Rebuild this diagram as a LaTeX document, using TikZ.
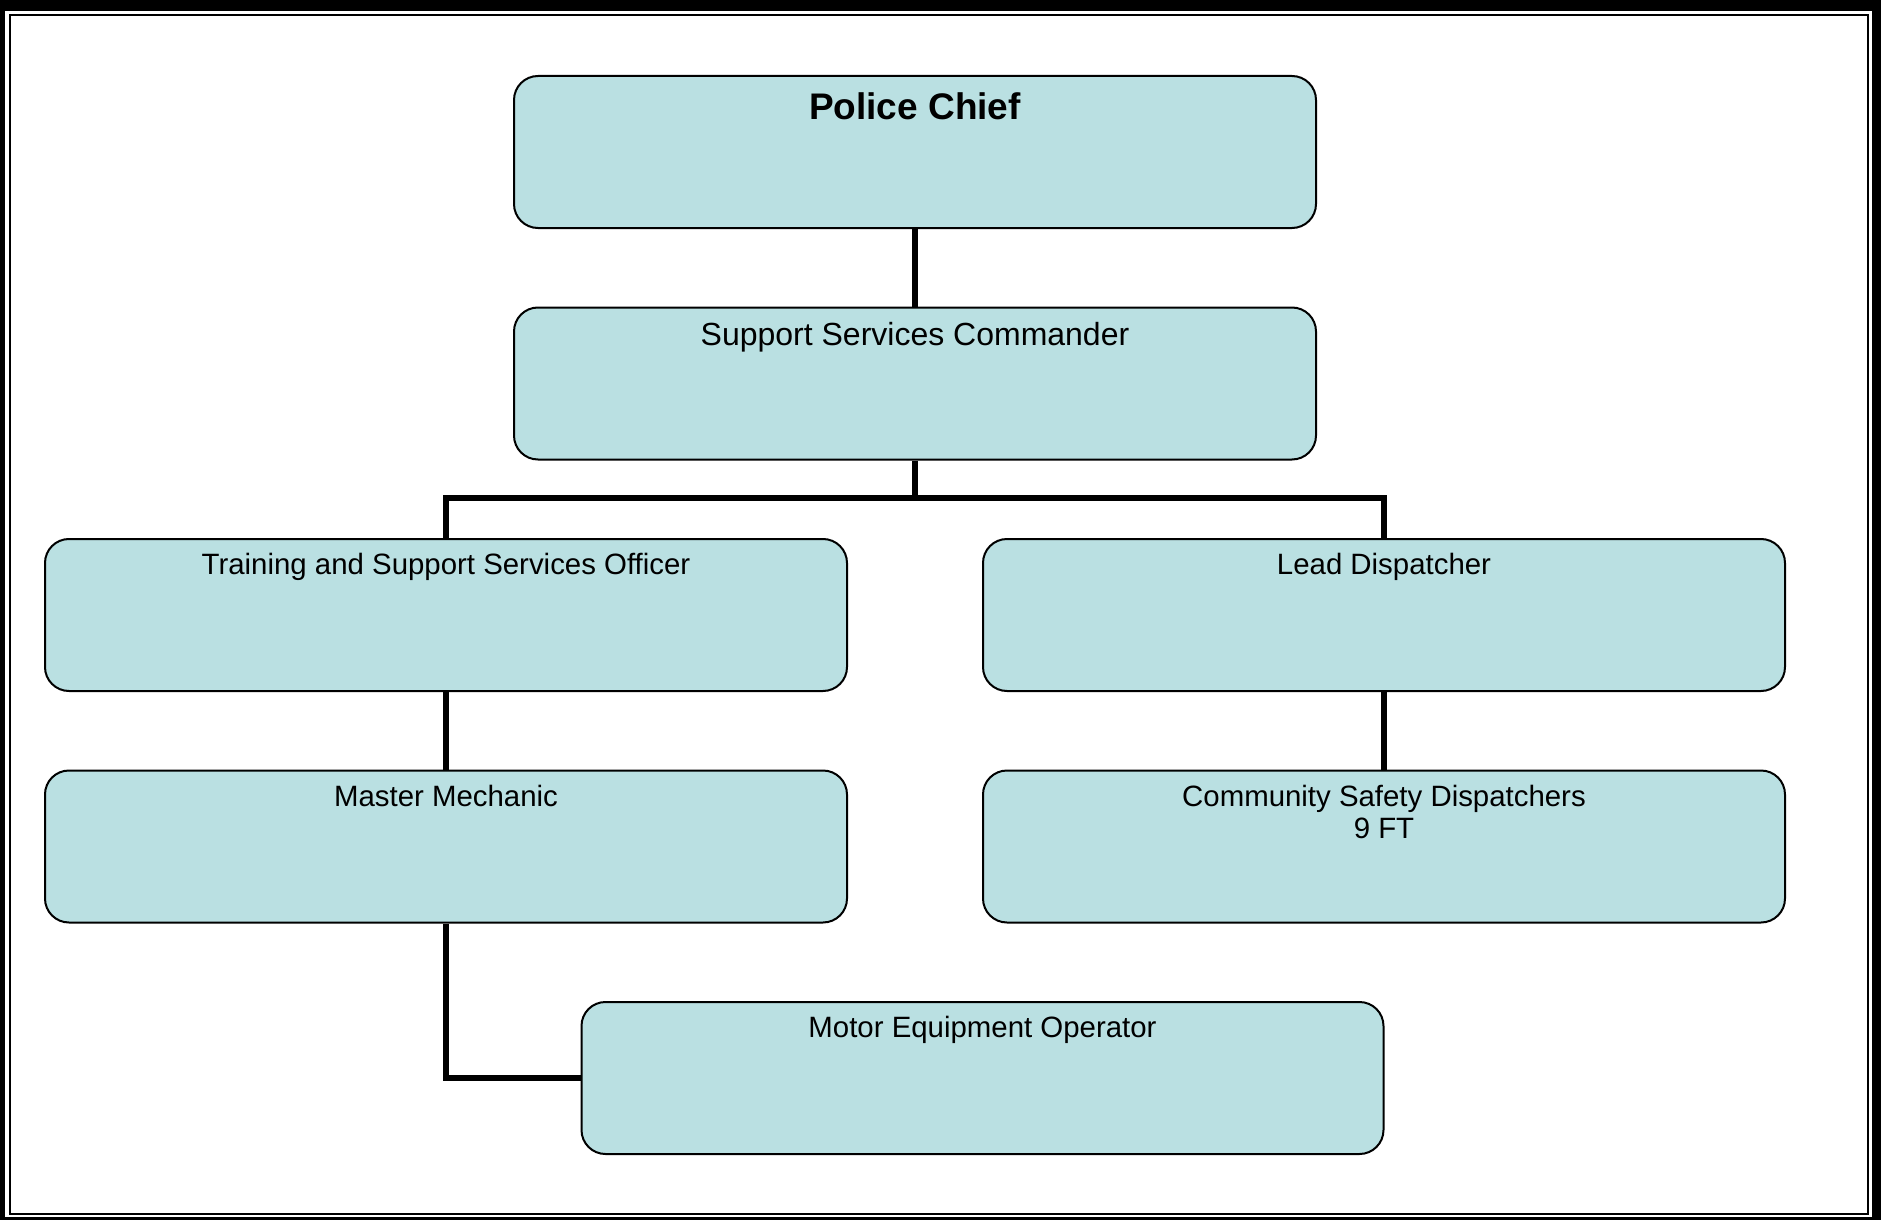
\documentclass[tikz,border=0pt]{standalone}
\usepackage{fontspec}
\setmainfont{Liberation Sans}
\definecolor{boxfill}{RGB}{186,224,226}

\begin{document}
\begin{tikzpicture}[x=0.5pt, y=-0.5pt, every node/.style={font=\fontsize{14.7}{16}\selectfont},
  box/.style={rectangle, draw, line width=1pt, rounded corners=12pt, fill=boxfill,
    minimum width=401pt, minimum height=76pt, inner sep=0pt},
  title/.style={anchor=north, yshift=-7.5pt, inner sep=0pt, align=center},
  link/.style={line width=3pt}]
  \fill (0,0) rectangle (1881,1220);
  \fill[white] (5,11) rectangle (1872,1217);
  \draw[line width=1pt] (10,15) rectangle (1868,1214);
  \node[box, label={[title, yshift=-1pt, font=\fontsize{18.5}{20}\selectfont\bfseries]north:Police Chief}] (chief) at (915,152) {};
  \node[box, label={[title, font=\fontsize{16}{17}\selectfont]north:Support Services Commander}] (ssc) at (915,383.5) {};
  \node[box, label={[title]north:Training and Support Services Officer}] (train) at (446,615) {};
  \node[box, label={[title]north:Lead Dispatcher}] (lead) at (1384,615) {};
  \node[box, label={[title]north:Master Mechanic}] (mech) at (446,846.5) {};
  \node[box, label={[title]north:Community Safety Dispatchers\\9 FT}] (comm) at (1384,846.5) {};
  \node[box, label={[title]north:Motor Equipment Operator}] (motor) at (982.5,1078) {};
  \coordinate (fork) at (915,498);
  \draw[link] (chief.south) -- (ssc.north);
  \draw[link] (ssc.south) -- (fork);
  \draw[link] (train.north) |- (fork) -| (lead.north);
  \draw[link] (train.south) -- (mech.north);
  \draw[link] (lead.south) -- (comm.north);
  \draw[link] (mech.south) |- (motor.west);
\end{tikzpicture}
\end{document}
